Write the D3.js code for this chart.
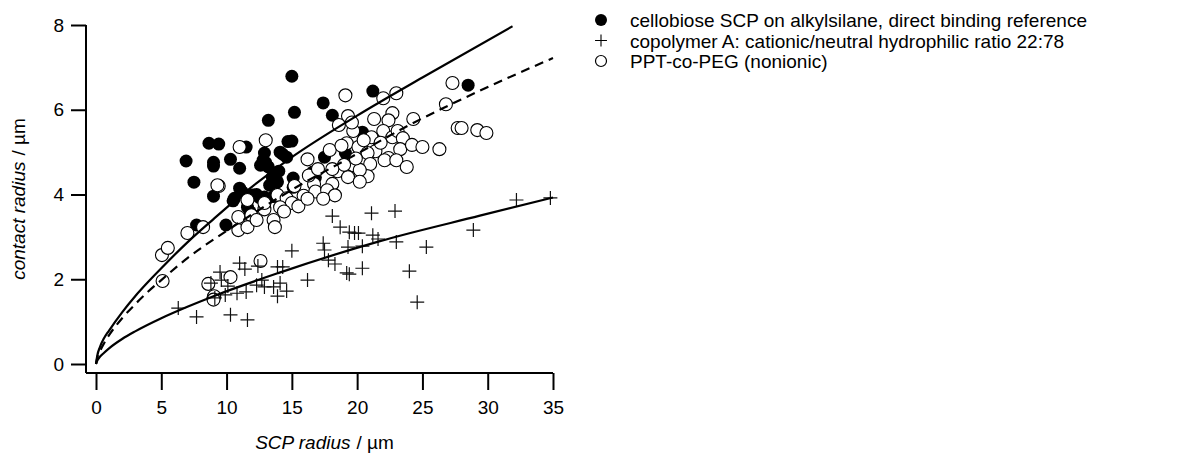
<!DOCTYPE html>
<html lang="en">
<head>
<meta charset="UTF-8"/>
<title>contact radius vs SCP radius</title>
<script src="https://d3js.org/d3.v7.min.js"></script>
<style>
  body { margin: 0; background: #fff; }
  text { font-family: "Liberation Sans", Arial, sans-serif; fill: #000; }
</style>
</head>
<body>
<script>
    // tick values
    var xTicks = [0, 5, 10, 15, 20, 25, 30, 35];
    var yTicks = [0, 2, 4, 6, 8];

    // legend labels
    var seriesNames = [
        "cellobiose SCP on alkylsilane, direct binding reference",
        "copolymer A: cationic/neutral hydrophilic ratio 22:78",
        "PPT-co-PEG (nonionic)"
    ];

    // filled circles [SCP radius, contact radius]
    var cellobiose = [
        [6.9,4.79],[7.5,4.29],[7.7,3.28],[8.65,5.21],[9.4,5.19],[9.0,4.76],[9.0,4.67],[9.0,3.96],
        [9.95,3.28],[10.3,4.83],[10.5,3.85],[10.6,3.91],[11.0,4.62],[11.0,4.15],[11.2,4.06],[11.5,5.12],
        [11.8,3.59],[12.0,3.99],[12.6,4.69],[12.8,4.81],[12.9,4.98],[12.9,3.94],[13.2,5.75],[13.2,4.65],
        [13.3,4.22],[13.5,4.41],[14.1,5.0],[14.6,4.88],[15.0,6.79],[15.0,5.26],[15.2,5.94],[15.1,4.39],
        [15.1,4.17],[14.7,5.25],[16.6,4.53],[16.8,4.4],[17.4,6.16],[17.5,4.88],[18.1,5.87],[19.1,4.98],
        [20.4,5.47],[21.2,6.44],[28.5,6.58],[13.9,4.3],[14.3,4.95],[12.3,4.0],[13.0,4.75],[14.0,4.55],
        [11.6,3.7],[12.5,3.93],[13.6,3.95]
    ];

    // plus markers
    var copolymerA = [
        [15.0,2.67],[11.0,2.38],[11.4,2.24],[9.5,2.17],[9.6,1.98],[8.8,1.91],[10.1,1.84],[12.4,2.31],
        [13.9,2.29],[14.3,2.29],[12.7,1.98],[12.3,1.86],[12.9,1.82],[13.6,1.82],[14.1,1.91],[14.6,1.72],
        [13.9,1.6],[11.5,1.70],[10.8,1.67],[9.9,1.63],[9.1,1.56],[6.3,1.32],[7.7,1.11],[10.3,1.16],
        [11.6,1.04],[18.1,3.49],[21.1,3.56],[22.9,3.61],[18.7,3.23],[19.4,3.11],[19.8,3.09],[20.1,3.09],
        [21.2,3.04],[21.6,2.95],[23.0,2.88],[25.3,2.76],[17.4,2.85],[17.5,2.69],[19.3,2.76],[20.4,2.78],
        [17.8,2.45],[18.3,2.36],[19.2,2.15],[19.4,2.12],[20.4,2.26],[16.2,1.98],[24.0,2.19],[24.6,1.46],
        [28.9,3.16],[32.2,3.87],[34.8,3.92]
    ];

    // open circles
    var pptPeg = [
        [19.1,6.34],[22.0,6.27],[23.0,6.39],[27.3,6.63],[26.8,6.13],[19.3,5.85],[22.7,5.92],[21.3,5.78],
        [22.4,5.75],[24.3,5.78],[18.6,5.64],[19.7,5.5],[22.0,5.5],[21.1,5.35],[22.7,5.35],[23.1,5.5],
        [23.5,5.33],[19.2,5.21],[20.1,5.12],[21.4,5.02],[23.3,5.07],[24.2,5.17],[25.0,5.12],[26.3,5.07],
        [16.2,4.83],[22.4,4.86],[20.8,4.98],[19.7,4.69],[21.0,4.72],[22.1,4.81],[23.0,4.81],[23.8,4.65],
        [18.5,4.55],[19.3,4.41],[20.8,4.43],[18.1,4.25],[16.7,4.25],[20.2,4.58],[27.7,5.57],[28.0,5.57],
        [29.2,5.52],[29.9,5.45],[9.4,4.2],[10.9,3.47],[11.9,3.51],[12.9,3.65],[13.6,3.4],[13.7,3.23],
        [10.9,3.16],[11.6,3.23],[12.3,3.4],[7.0,3.09],[8.2,3.23],[5.05,2.57],[5.5,2.74],[5.1,1.96],
        [8.6,1.89],[10.3,2.05],[12.6,2.43],[9.0,1.56],[9.05,1.6],[9.0,1.52],[13.9,3.99],[14.6,3.91],
        [15.0,3.8],[14.1,3.7],[12.9,3.8],[11.6,3.87],[11.0,5.12],[13.0,5.28],[9.3,4.22],[15.9,3.97],
        [16.8,4.07],[15.2,4.2],[16.3,4.45],[17.0,4.6],[17.7,4.1],[18.3,3.98],[17.4,3.9],[15.5,3.72],
        [19.0,4.7],[19.9,4.85],[20.5,5.28],[21.8,5.22],[17.9,5.05],[18.8,5.15],[19.6,5.7],[18.1,4.6],
        [16.2,3.9],[14.4,3.6],[20.2,4.3]
    ];

    // fit curves
    var fitCellobiose = [[0,0],[0.1,0.2],[0.3,0.4],[0.6,0.6],[1,0.79],[2,1.22],[3,1.6],[4,1.94],[5,2.26],
        [7,2.87],[9,3.42],[10.5,3.82],[15,4.88],[20,5.86],[25,6.76],[31.9,7.97]];
    var fitPpt = [[0,0],[0.1,0.15],[0.3,0.3],[0.6,0.48],[1,0.68],[2,1.08],[3,1.41],[4,1.71],[5,1.98],
        [7,2.5],[10,3.14],[15,4.11],[20,4.96],[24,5.64],[29.4,6.45],[35,7.22]];
    var fitCopolymer = [[0,0],[0.1,0.08],[0.3,0.17],[0.6,0.26],[1,0.37],[2,0.59],[3,0.77],[5,1.08],
        [7,1.35],[9,1.6],[14,2.15],[21.75,2.9],[29.4,3.5],[35,3.93]];

    var w = 1201, h = 454;
    var fontSize = 19;

    var svg = d3.select("body").append("svg")
        .attr("width", w)
        .attr("height", h);

    var x = d3.scaleLinear().domain([0, 35]).range([96, 553]);
    var y = d3.scaleLinear().domain([0, 8]).range([364, 25]);
    var axisX = 86, axisY = 373;

    // x axis
    var gx = svg.append("g")
        .attr("transform", "translate(0," + axisY + ")")
        .call(d3.axisBottom(x).tickValues(xTicks).tickSize(17).tickSizeOuter(0).tickPadding(11));
    gx.select(".domain").remove();
    gx.append("line")
        .attr("x1", axisX).attr("x2", x(35))
        .attr("stroke", "#000").attr("stroke-width", 2);

    // y axis
    var gy = svg.append("g")
        .attr("transform", "translate(" + axisX + ",0)")
        .call(d3.axisLeft(y).tickValues(yTicks).tickSize(15).tickSizeOuter(0).tickPadding(7));
    gy.select(".domain").remove();
    gy.append("line")
        .attr("y1", y(8)).attr("y2", axisY)
        .attr("stroke", "#000").attr("stroke-width", 2);

    svg.selectAll(".tick line").attr("stroke", "#000").attr("stroke-width", 2);
    svg.selectAll(".tick text")
        .attr("font-size", fontSize)
        .attr("font-family", "Liberation Sans, Arial, sans-serif")
        .attr("fill", "#000");

    // axis titles
    var xt = svg.append("text")
        .attr("x", (x(0) + x(35)) / 2)
        .attr("y", 449)
        .attr("text-anchor", "middle")
        .attr("font-size", fontSize);
    xt.append("tspan").attr("font-style", "italic").text("SCP radius");
    xt.append("tspan").attr("dx", 6).text("/ µm");

    var yt = svg.append("text")
        .attr("transform", "translate(25," + ((y(8) + axisY) / 2) + ") rotate(-90)")
        .attr("text-anchor", "middle")
        .attr("font-size", fontSize);
    yt.append("tspan").attr("font-style", "italic").text("contact radius");
    yt.append("tspan").attr("dx", 6).text("/ µm");

    var r = 6.5;
    var crossPath = "M-7,0H7M0,-7V7";

    // filled circles
    svg.append("g").selectAll("circle")
        .data(cellobiose)
        .enter().append("circle")
        .attr("cx", function(d) { return x(d[0]); })
        .attr("cy", function(d) { return y(d[1]); })
        .attr("r", r)
        .attr("fill", "#000");

    // open circles
    svg.append("g").selectAll("circle")
        .data(pptPeg)
        .enter().append("circle")
        .attr("cx", function(d) { return x(d[0]); })
        .attr("cy", function(d) { return y(d[1]); })
        .attr("r", r)
        .attr("fill", "#fff")
        .attr("stroke", "#000")
        .attr("stroke-width", 1.1);

    // crosses
    svg.append("g").selectAll("path")
        .data(copolymerA)
        .enter().append("path")
        .attr("transform", function(d) { return "translate(" + x(d[0]) + "," + y(d[1]) + ")"; })
        .attr("d", crossPath)
        .attr("stroke", "#111")
        .attr("stroke-width", 1.2)
        .attr("fill", "none");

    // fit lines
    var line = d3.line()
        .x(function(d) { return x(d[0]); })
        .y(function(d) { return y(d[1]); })
        .curve(d3.curveMonotoneX);

    svg.append("path").datum(fitCellobiose)
        .attr("d", line).attr("fill", "none")
        .attr("stroke", "#000").attr("stroke-width", 2.2);
    svg.append("path").datum(fitPpt)
        .attr("d", line).attr("fill", "none")
        .attr("stroke", "#000").attr("stroke-width", 2.2)
        .attr("stroke-dasharray", "9,6");
    svg.append("path").datum(fitCopolymer)
        .attr("d", line).attr("fill", "none")
        .attr("stroke", "#000").attr("stroke-width", 2.2);

    // legend
    var legend = svg.append("g");
    var rowY = [20, 40.5, 61];
    legend.append("circle").attr("cx", 601).attr("cy", rowY[0]).attr("r", 6).attr("fill", "#000");
    legend.append("path").attr("d", crossPath)
        .attr("transform", "translate(601," + rowY[1] + ") scale(0.85)")
        .attr("stroke", "#000").attr("stroke-width", 1.3);
    legend.append("circle").attr("cx", 601).attr("cy", rowY[2]).attr("r", 5.5)
        .attr("fill", "#fff").attr("stroke", "#000").attr("stroke-width", 1.2);

    legend.selectAll("text")
        .data(seriesNames)
        .enter().append("text")
        .attr("x", 630)
        .attr("y", function(d, i) { return rowY[i] + 7; })
        .attr("font-size", fontSize)
        .text(function(d) { return d; });
</script>
</body>
</html>
